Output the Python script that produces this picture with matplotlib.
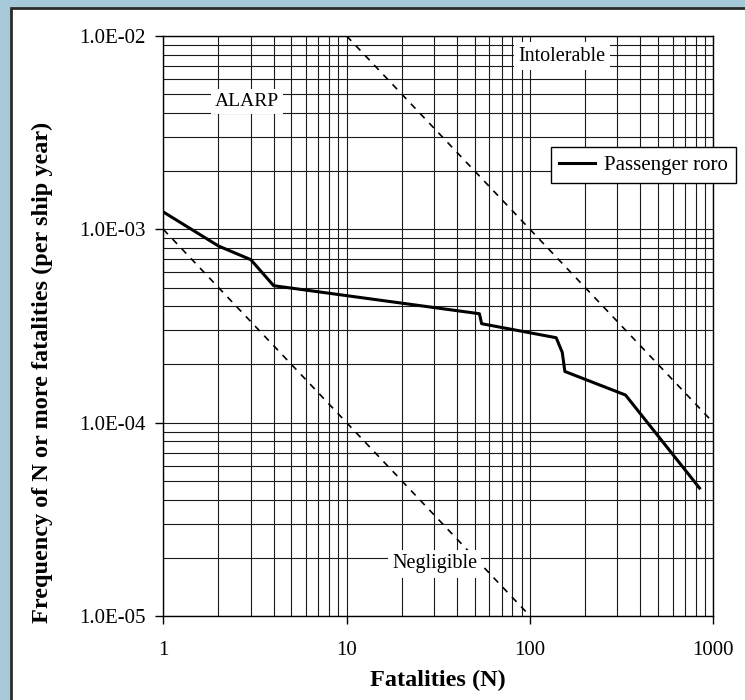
import matplotlib.pyplot as plt
from matplotlib.patches import Rectangle
from matplotlib.ticker import LogLocator, FuncFormatter, NullFormatter

plt.rcParams['font.family'] = ['Liberation Serif', 'DejaVu Serif']
plt.rcParams['font.size'] = 14

# Passenger roro FN curve
roro_n = [1, 2, 3, 4, 53, 54.5, 139, 150, 155, 332, 841]
roro_f = [1.23e-3, 8.2e-4, 6.97e-4, 5.11e-4, 3.66e-4, 3.25e-4, 2.75e-4, 2.31e-4, 1.84e-4, 1.39e-4, 4.59e-5]

# criteria lines
intol_n = [10, 1000]
intol_f = [1e-2, 1e-4]
negl_n = [1, 100]
negl_f = [1e-3, 1e-5]

W, H = 745, 700
fig = plt.figure(figsize=(W / 100, H / 100), dpi=100)
fig.patch.set_facecolor('#a6c8d8')
# white panel with dark frame (right and bottom edges run off the picture)
fig.patches.append(Rectangle((11 / W, -0.1), 1.2, 1 - 8 / H + 0.1, transform=fig.transFigure,
                             facecolor='white', edgecolor='#2b2b2b', linewidth=2, zorder=-10))

ax = fig.add_axes([163.3 / W, 1 - 616 / H, 550 / W, 580 / H])
ax.set_zorder(1)
ax.set_xscale('log')
ax.set_yscale('log')
ax.set_xlim(1, 1000)
ax.set_ylim(1e-5, 1e-2)

ax.xaxis.set_major_locator(LogLocator(base=10, numticks=10))
ax.xaxis.set_minor_locator(LogLocator(base=10, subs=range(2, 10), numticks=20))
ax.yaxis.set_major_locator(LogLocator(base=10, numticks=10))
ax.yaxis.set_minor_locator(LogLocator(base=10, subs=range(2, 10), numticks=20))
ax.xaxis.set_major_formatter(FuncFormatter(lambda v, p: '%d' % round(v)))
ax.yaxis.set_major_formatter(FuncFormatter(lambda v, p: '%.1E' % v))
ax.xaxis.set_minor_formatter(NullFormatter())
ax.yaxis.set_minor_formatter(NullFormatter())

ax.grid(True, which='both', color='#1a1a1a', linewidth=0.8)
ax.set_axisbelow(True)
ax.tick_params(which='major', direction='out', length=6, width=1, labelsize=15)
ax.tick_params(axis='x', which='major', pad=12)
ax.tick_params(axis='y', which='major', pad=7)
ax.tick_params(which='minor', length=0)
for s in ax.spines.values():
    s.set_color('black')
    s.set_linewidth(1)

ax.plot(intol_n, intol_f, color='black', linestyle=(0, (4, 4)), linewidth=1.2)
ax.plot(negl_n, negl_f, color='black', linestyle=(0, (4, 4)), linewidth=1.2)
ax.plot(roro_n, roro_f, color='black', linewidth=2.2, label='Passenger roro')

# region labels on white boxes
box = dict(facecolor='white', edgecolor='none', pad=3)
ax.text(2.86, 4.6e-3, 'ALARP', ha='center', va='center', fontsize=14, bbox=box)
ax.text(149, 7.87e-3, 'Intolerable', ha='center', va='center', fontsize=14.5, bbox=box)
ax.text(30.2, 1.86e-5, 'Negligible', ha='center', va='center', fontsize=14.5, bbox=box)

leg = ax.legend(loc='upper left', bbox_to_anchor=(551 / W, 1 - 147 / H), bbox_transform=fig.transFigure,
                borderaxespad=0, fancybox=False, framealpha=1, edgecolor='black', fontsize=15,
                handlelength=1.7, handletextpad=0.45, borderpad=0.4)
leg.get_frame().set_linewidth(1)

ax.set_xlabel('Fatalities (N)', fontsize=17.5, fontweight='bold')
ax.set_ylabel('Frequency of N or more fatalities (per ship year)', fontsize=17.5, fontweight='bold')
ax.xaxis.set_label_coords(0.5, -0.093)
ax.yaxis.set_label_coords(-0.2, 0.42)

fig.savefig('out.png', dpi=100, facecolor=fig.get_facecolor())
